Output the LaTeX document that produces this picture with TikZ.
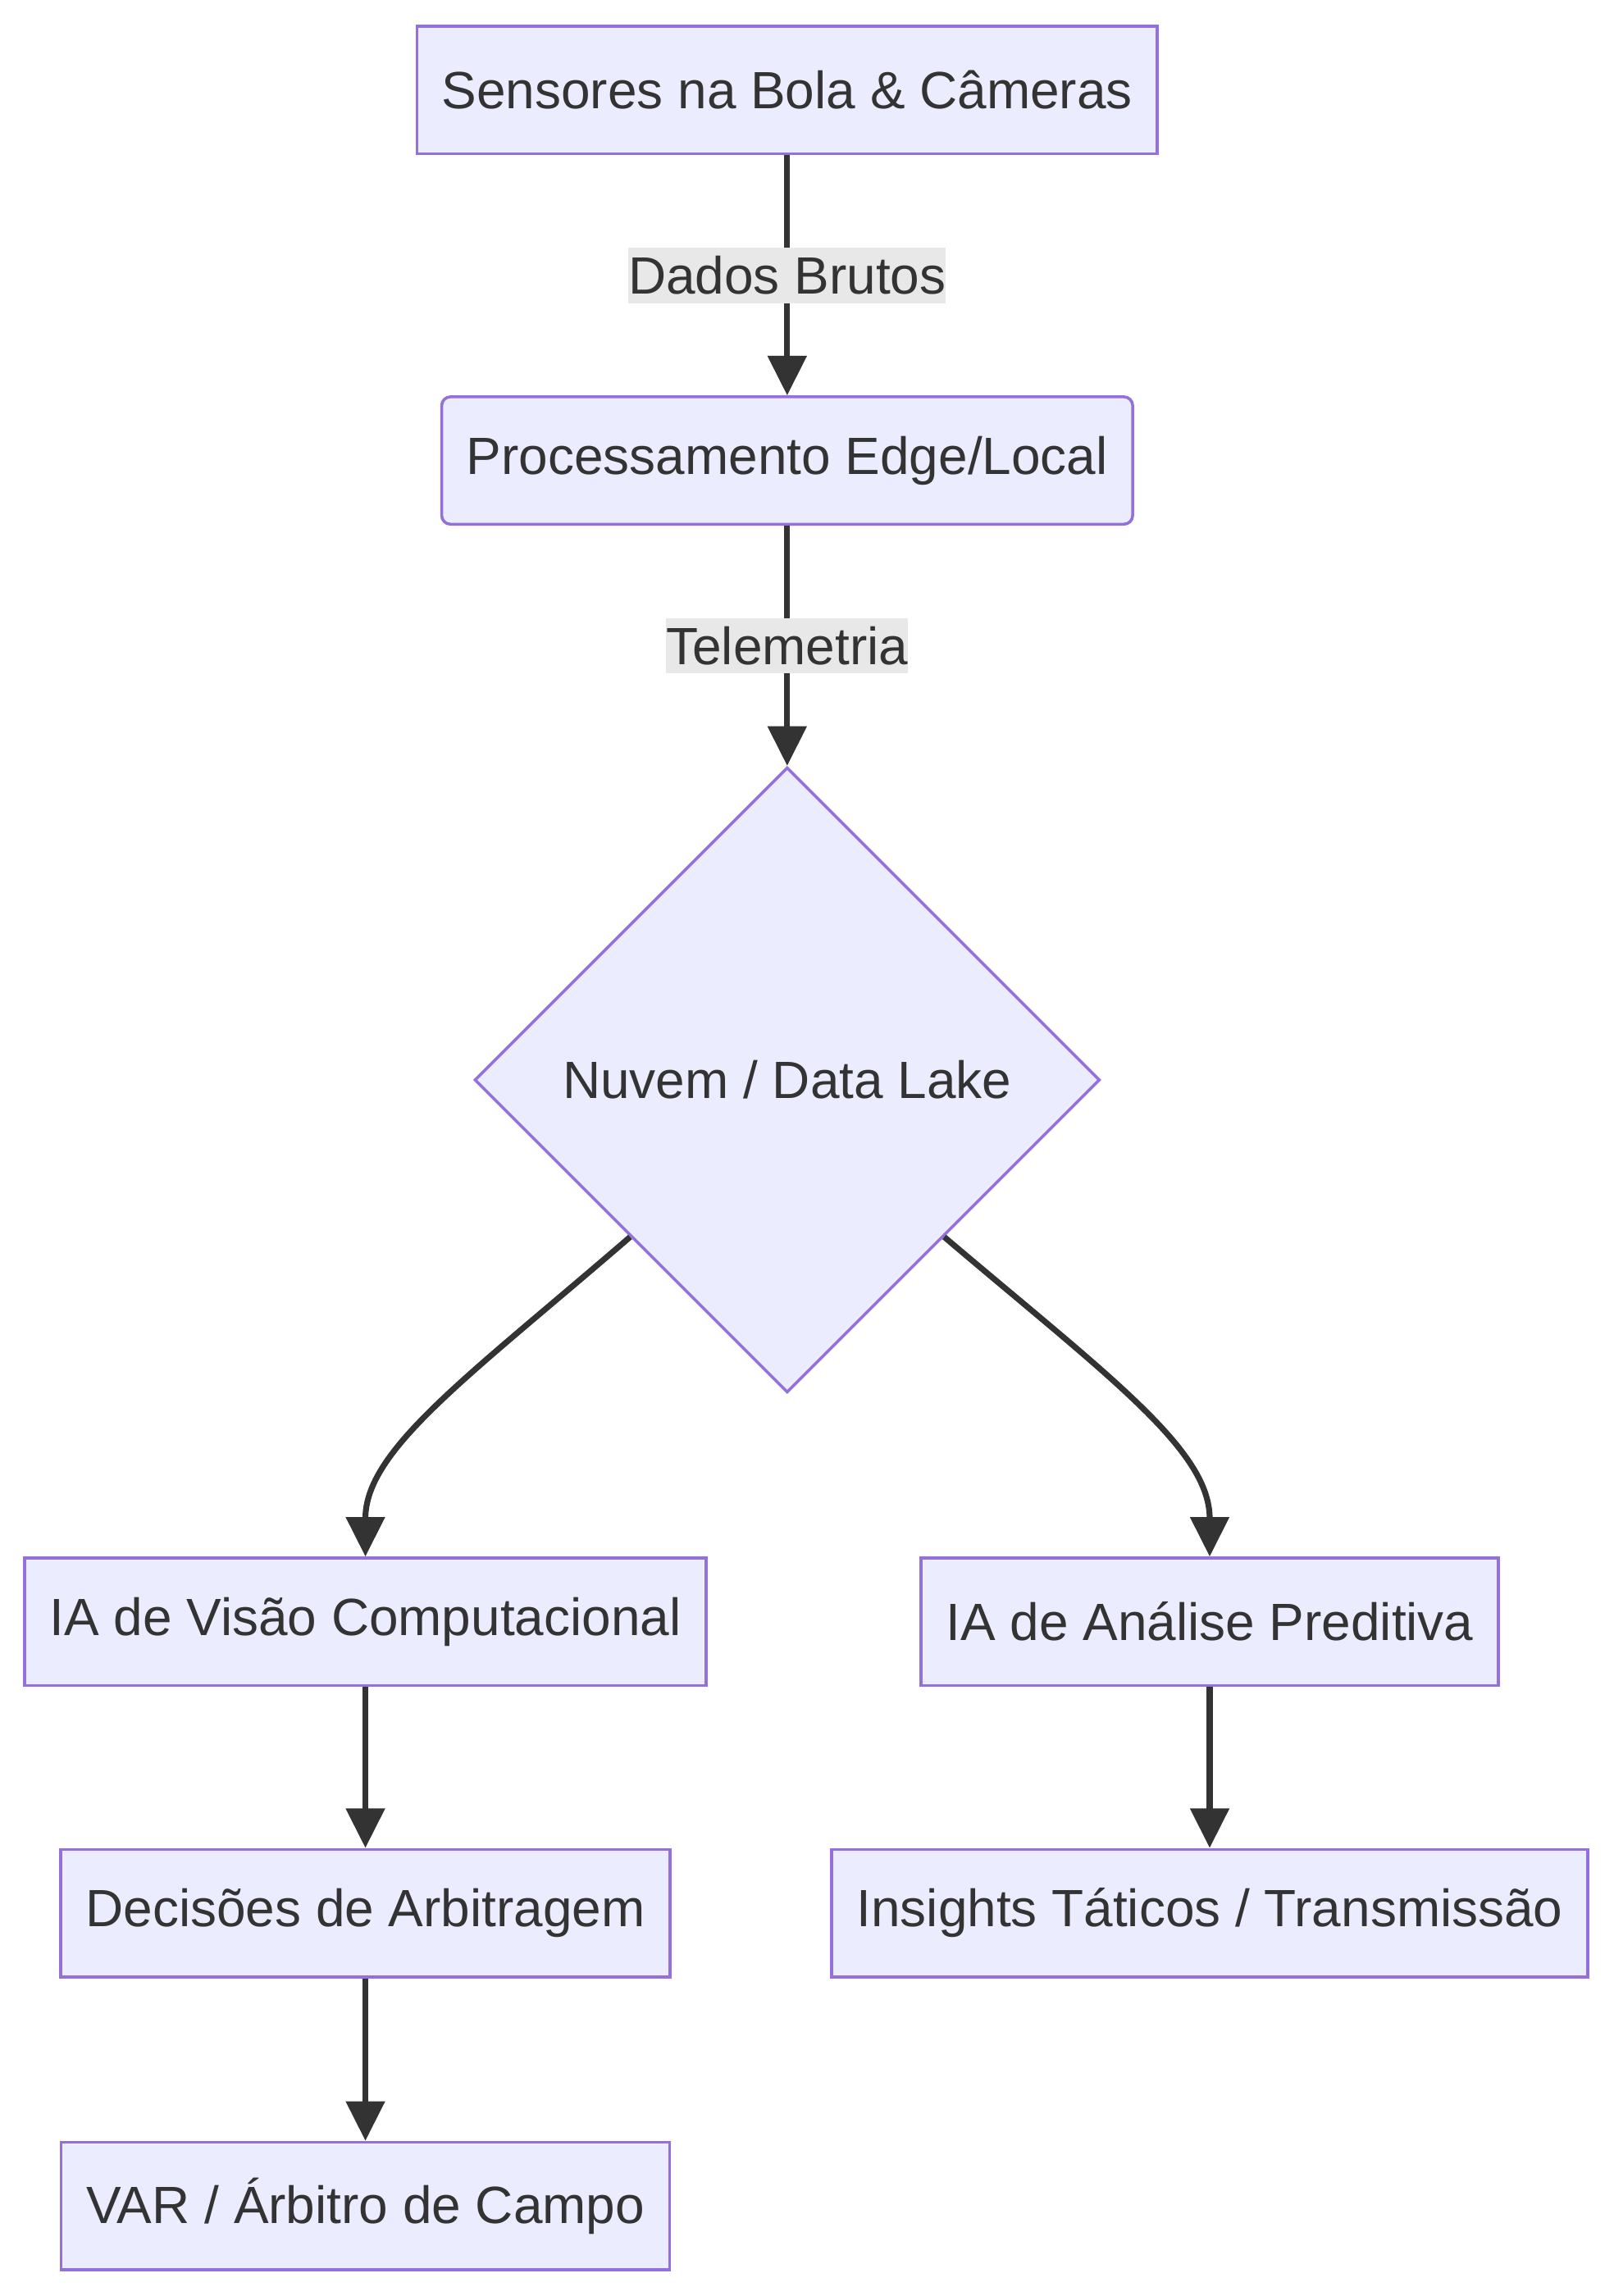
\documentclass[tikz,border=0pt]{standalone}
\usepackage{fontspec}
\setmainfont{Liberation Sans}
\definecolor{nodefill}{HTML}{ECECFF}
\definecolor{nodeline}{HTML}{9370DB}
\definecolor{inkgray}{HTML}{333333}
\definecolor{labelbg}{HTML}{E8E8E8}
\usepackage{tikz}
\usetikzlibrary{arrows.meta,positioning,shapes.geometric}

\begin{document}
\begin{tikzpicture}[
  x=1pt, y=1pt,
  node distance=82pt,
  box/.style={rectangle, draw=nodeline, fill=nodefill, line width=1pt, minimum height=43.5pt, inner xsep=8.5pt, text=inkgray, font=\fontsize{17.9}{21}\selectfont},
  roundbox/.style={box, rounded corners=3pt},
  decision/.style={diamond, draw=nodeline, fill=nodefill, line width=1pt, minimum width=213.5pt, minimum height=213.5pt, inner sep=0pt, text=inkgray, font=\fontsize{17.9}{21}\selectfont},
  arrow/.style={-{Triangle[length=13.5pt, width=13pt]}, line width=2pt, draw=inkgray},
  edgelabel/.style={fill=labelbg, inner xsep=0pt, inner ysep=0pt, minimum height=19pt, text=inkgray, font=\fontsize{17.9}{21}\selectfont},
]
\useasboundingbox (0,0) rectangle (551,-784);

% Capture
\node[box] (sensors) at (268.75,-30.75) {Sensores na Bola \& Câmeras};

% Edge
\node[roundbox, below=82pt of sensors] (edge) {Processamento Edge/Local};

% Cloud
\node[decision, below=82pt of edge] (lake) {Nuvem / Data Lake};

% AI branches
\node[box] (vision) at (124.75,-553.75) {IA de Visão Computacional};
\node[box] (predict) at (413,-553.75) {IA de Análise Preditiva};

% Outputs
\node[box, below=55pt of vision] (decisions) {Decisões de Arbitragem};
\node[box, below=55.5pt of decisions] (var) {VAR / Árbitro de Campo};
\node[box, below=55pt of predict] (insights) {Insights Táticos / Transmissão};

% Arrows
\draw[arrow] (sensors) -- node[edgelabel] {Dados Brutos} (edge);
\draw[arrow] (edge) -- node[edgelabel] {Telemetria} (lake);
\draw[arrow] (lake.south west) .. controls (160,-470) and (124.75,-495) .. (vision.north);
\draw[arrow] (lake.south east) .. controls (378.5,-470) and (413,-495) .. (predict.north);
\draw[arrow] (vision) -- (decisions);
\draw[arrow] (decisions) -- (var);
\draw[arrow] (predict) -- (insights);

\end{tikzpicture}
\end{document}
